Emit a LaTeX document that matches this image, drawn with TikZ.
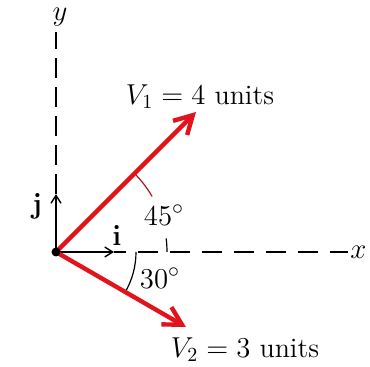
\documentclass[tikz,border=0pt]{standalone}
\usepackage{amsmath,amssymb}
\usepackage{tikz}
\usetikzlibrary{arrows.meta, positioning, calc}
\definecolor{vecred}{RGB}{225,20,30}
\definecolor{arcred}{RGB}{170,20,35}

\begin{document}
\begin{tikzpicture}[
    x=0.5pt, y=0.5pt,
    font=\fontsize{14}{16}\selectfont,
    axis/.style={draw=black, line width=0.7pt},
    vec/.style={draw=vecred, line width=2.2pt, -{Straight Barb[length=9pt, width=10pt]}},
    unitvec/.style={draw=black, line width=0.7pt, -{Straight Barb[length=4pt, width=5pt]}},
    anglearc/.style={line width=0.6pt}
]
\useasboundingbox (-56,-115) rectangle (314,252);
% origin and end points
\coordinate (O) at (0,0);
\coordinate (ytop) at (0,220);
\coordinate (xend) at (292,0);
\coordinate (v1) at (45:198);
\coordinate (v2) at (-30:150);
\coordinate (jtip) at (0,58);
\coordinate (itip) at (58,0);
% axes
\draw[axis, dash pattern=on 10pt off 4.5pt] (jtip) -- (ytop);
\draw[axis, dash pattern=on 10pt off 6pt, dash phase=4pt] (itip) -- (xend);
\node[inner sep=1pt] (ylab) at (4,235) {$y$};
\node[anchor=west, inner sep=1pt] (xlab) at (xend) {$x$};
% unit vectors
\draw[unitvec] (O) -- (jtip);
\draw[unitvec] (O) -- (itip);
\node[font=\fontsize{15}{17}\selectfont] (jlab) at (-19,46) {$\mathbf{j}$};
\node[font=\fontsize{15}{17}\selectfont] (ilab) at (61,16) {$\mathbf{i}$};
% angle marks
\draw[anglearc, draw=arcred] (45:111) arc[start angle=45, end angle=30, radius=111];
\draw[anglearc] (7:111) arc[start angle=7, end angle=0, radius=111];
\draw[anglearc] (0:80) arc[start angle=0, end angle=-30, radius=80];
\node[font=\fontsize{15}{17}\selectfont] (a45) at (108,37) {$45^\circ$};
\node[font=\fontsize{15}{17}\selectfont] (a30) at (104,-26) {$30^\circ$};
% vectors
\draw[vec] (O) -- (v1);
\draw[vec] (O) -- (v2);
\fill[black] (O) circle (4.5);
\node (v1lab) at (144,155) {$V_1 = 4$ units};
\node (v2lab) at (189,-98) {$V_2 = 3$ units};
\end{tikzpicture}
\end{document}
